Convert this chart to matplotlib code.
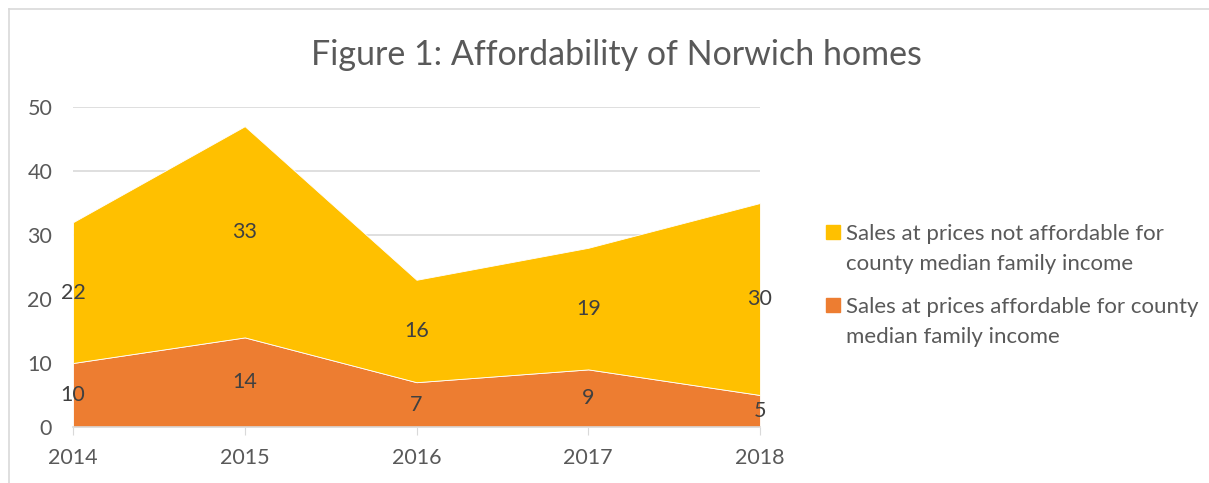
import matplotlib.pyplot as plt
from matplotlib.patches import Rectangle
from matplotlib.lines import Line2D

# --- DATA ---
years = ["2014", "2015", "2016", "2017", "2018"]
affordable = [10, 14, 7, 9, 5]
not_affordable = [22, 33, 16, 19, 30]
series_names = [
    "Sales at prices not affordable for\ncounty median family income",
    "Sales at prices affordable for county\nmedian family income",
]

ORANGE = "#ED7D31"
GOLD = "#FFC000"
TEXT = "#595959"
GRID = "#D9D9D9"

plt.rcParams["font.family"] = ["Lato", "DejaVu Sans"]

fig = plt.figure(figsize=(12.09, 4.83), dpi=100)
ax = fig.add_axes([73 / 1209, 56 / 483, 687 / 1209, 320 / 483])

x = list(range(len(years)))
ax.stackplot(x, affordable, not_affordable, colors=[ORANGE, GOLD],
             edgecolor="white", linewidth=0.6, zorder=2)

# data labels centred in each band
for i in x:
    ax.text(i, affordable[i] / 2, str(affordable[i]), ha="center", va="center",
            fontsize=15.5, color="#404040", zorder=3)
    ax.text(i, affordable[i] + not_affordable[i] / 2, str(not_affordable[i]),
            ha="center", va="center", fontsize=15.5, color="#404040", zorder=3)

ax.set_xlim(0, len(years) - 1)
ax.set_ylim(0, 50)
ax.set_yticks(range(0, 51, 10))
ax.set_xticks(x)
ax.set_xticklabels(years)
ax.grid(axis="y", color=GRID, linewidth=1.2, zorder=0)
ax.set_axisbelow(True)
for s in ["top", "right", "left"]:
    ax.spines[s].set_visible(False)
ax.spines["bottom"].set_color(GRID)
ax.spines["bottom"].set_linewidth(1.2)
ax.tick_params(axis="y", length=0, pad=15, labelsize=15.5, labelcolor=TEXT)
ax.tick_params(axis="x", length=6, color=GRID, pad=9, labelsize=15.5,
               labelcolor=TEXT)

fig.text(616 / 1209, 1 - 55 / 483, "Figure 1: Affordability of Norwich homes",
         ha="center", va="center", fontsize=24.5, color=TEXT)

# legend: square aligned with the first line of each entry
legend_colors = [GOLD, ORANGE]
legend_y = [232, 305]
for name, col, ly in zip(series_names, legend_colors, legend_y):
    fig.add_artist(Rectangle((826 / 1209, 1 - (ly + 7) / 483), 14 / 1209, 14 / 483,
                             transform=fig.transFigure, color=col))
    fig.text(846 / 1209, 1 - (ly - 8) / 483, name, ha="left", va="top",
             fontsize=16, color=TEXT, linespacing=1.62)

# chart border (top and left only visible)
fig.add_artist(Line2D([9 / 1209, 1], [1 - 9 / 483, 1 - 9 / 483], color=GRID, lw=1.2))
fig.add_artist(Line2D([9 / 1209, 9 / 1209], [0, 1 - 9 / 483], color=GRID, lw=1.2))

fig.savefig("out.png", dpi=100)
